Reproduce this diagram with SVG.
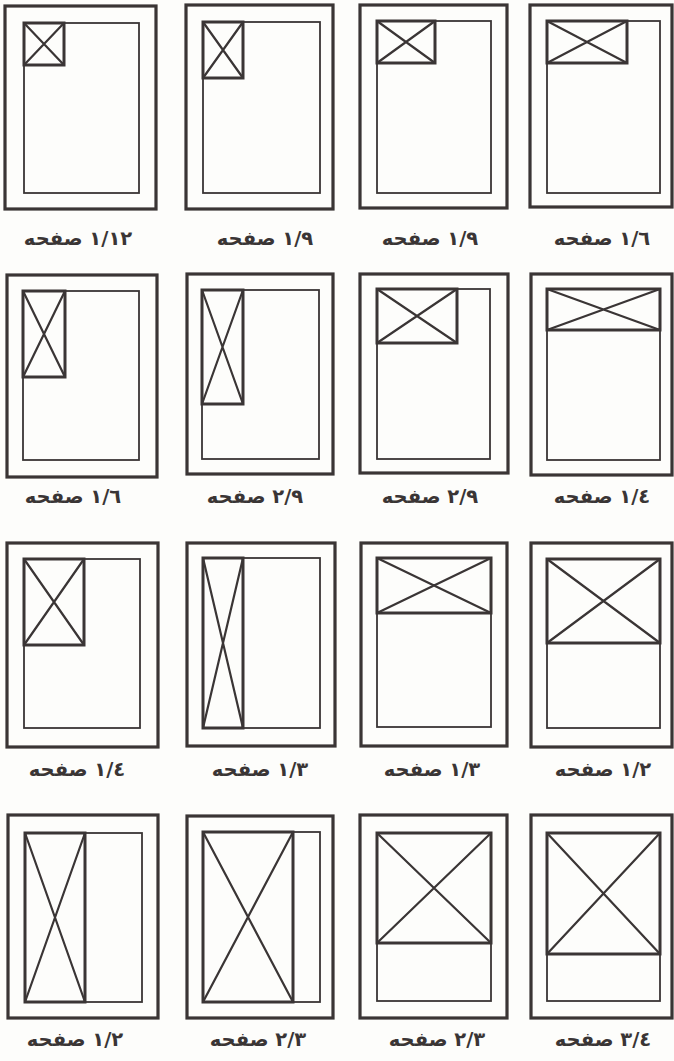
<svg xmlns="http://www.w3.org/2000/svg" width="674" height="1061" viewBox="0 0 674 1061">
<style>
.outer{fill:none;stroke:#3a3535;stroke-width:3.2}
.inner{fill:none;stroke:#3a3535;stroke-width:1.8}
.box{fill:none;stroke:#3a3535;stroke-width:3}
.diag{fill:none;stroke:#3a3535;stroke-width:2.2}
.lbl{font-family:"DejaVu Sans",sans-serif;font-weight:bold;font-size:19.5px;fill:#3a3535;text-anchor:middle}
</style>
<rect width="674" height="1061" fill="#fdfdfb"/>
<g id="p1"><rect class="outer" x="5" y="6" width="151" height="203"/><rect class="inner" x="24" y="23" width="115" height="170"/><rect class="box" x="24" y="23" width="40" height="42"/><path class="diag" d="M24 23L64 65M64 23L24 65"/><text class="lbl" x="78" y="245" direction="rtl">١/١٢ صفحه</text></g>
<g id="p2"><rect class="outer" x="186" y="5" width="147" height="204"/><rect class="inner" x="203" y="22" width="117" height="171"/><rect class="box" x="203" y="22" width="40" height="56"/><path class="diag" d="M203 22L243 78M243 22L203 78"/><text class="lbl" x="265" y="245" direction="rtl">١/٩ صفحه</text></g>
<g id="p3"><rect class="outer" x="360" y="5" width="147" height="203"/><rect class="inner" x="377" y="21" width="114" height="172"/><rect class="box" x="377" y="21" width="58" height="42"/><path class="diag" d="M377 21L435 63M435 21L377 63"/><text class="lbl" x="430" y="245" direction="rtl">١/٩ صفحه</text></g>
<g id="p4"><rect class="outer" x="530" y="5" width="142" height="202"/><rect class="inner" x="547" y="21" width="113" height="172"/><rect class="box" x="547" y="21" width="80" height="42"/><path class="diag" d="M547 21L627 63M627 21L547 63"/><text class="lbl" x="602" y="245" direction="rtl">١/٦ صفحه</text></g>
<g id="p5"><rect class="outer" x="7" y="275" width="150" height="202"/><rect class="inner" x="23" y="291" width="116" height="169"/><rect class="box" x="23" y="291" width="42" height="86"/><path class="diag" d="M23 291L65 377M65 291L23 377"/><text class="lbl" x="73" y="503" direction="rtl">١/٦ صفحه</text></g>
<g id="p6"><rect class="outer" x="187" y="274" width="146" height="200"/><rect class="inner" x="202" y="290" width="117" height="169"/><rect class="box" x="202" y="290" width="41" height="114"/><path class="diag" d="M202 290L243 404M243 290L202 404"/><text class="lbl" x="255" y="503" direction="rtl">٢/٩ صفحه</text></g>
<g id="p7"><rect class="outer" x="360" y="274" width="148" height="199"/><rect class="inner" x="377" y="289" width="113" height="170"/><rect class="box" x="377" y="289" width="80" height="54"/><path class="diag" d="M377 289L457 343M457 289L377 343"/><text class="lbl" x="430" y="503" direction="rtl">٢/٩ صفحه</text></g>
<g id="p8"><rect class="outer" x="531" y="274" width="141" height="201"/><rect class="inner" x="547" y="289" width="113" height="171"/><rect class="box" x="547" y="289" width="113" height="41"/><path class="diag" d="M547 289L660 330M660 289L547 330"/><text class="lbl" x="602" y="503" direction="rtl">١/٤ صفحه</text></g>
<g id="p9"><rect class="outer" x="7" y="543" width="151" height="204"/><rect class="inner" x="24" y="559" width="116" height="169"/><rect class="box" x="24" y="559" width="60" height="86"/><path class="diag" d="M24 559L84 645M84 559L24 645"/><text class="lbl" x="77" y="776" direction="rtl">١/٤ صفحه</text></g>
<g id="p10"><rect class="outer" x="187" y="543" width="148" height="203"/><rect class="inner" x="203" y="558" width="117" height="170"/><rect class="box" x="203" y="558" width="40" height="170"/><path class="diag" d="M203 558L243 728M243 558L203 728"/><text class="lbl" x="260" y="776" direction="rtl">١/٣ صفحه</text></g>
<g id="p11"><rect class="outer" x="361" y="543" width="146" height="203"/><rect class="inner" x="377" y="558" width="114" height="169"/><rect class="box" x="377" y="558" width="114" height="55"/><path class="diag" d="M377 558L491 613M491 558L377 613"/><text class="lbl" x="432" y="776" direction="rtl">١/٣ صفحه</text></g>
<g id="p12"><rect class="outer" x="531" y="543" width="141" height="204"/><rect class="inner" x="547" y="559" width="113" height="169"/><rect class="box" x="547" y="559" width="113" height="84"/><path class="diag" d="M547 559L660 643M660 559L547 643"/><text class="lbl" x="603" y="776" direction="rtl">١/٢ صفحه</text></g>
<g id="p13"><rect class="outer" x="8" y="815" width="150" height="203"/><rect class="inner" x="25" y="833" width="117" height="169"/><rect class="box" x="25" y="833" width="60" height="169"/><path class="diag" d="M25 833L85 1002M85 833L25 1002"/><text class="lbl" x="75" y="1046" direction="rtl">١/٢ صفحه</text></g>
<g id="p14"><rect class="outer" x="187" y="816" width="146" height="202"/><rect class="inner" x="203" y="832" width="117" height="170"/><rect class="box" x="203" y="832" width="90" height="170"/><path class="diag" d="M203 832L293 1002M293 832L203 1002"/><text class="lbl" x="258" y="1046" direction="rtl">٢/٣ صفحه</text></g>
<g id="p15"><rect class="outer" x="360" y="815" width="147" height="203"/><rect class="inner" x="377" y="833" width="114" height="168"/><rect class="box" x="377" y="833" width="114" height="110"/><path class="diag" d="M377 833L491 943M491 833L377 943"/><text class="lbl" x="437" y="1046" direction="rtl">٢/٣ صفحه</text></g>
<g id="p16"><rect class="outer" x="531" y="815" width="141" height="203"/><rect class="inner" x="547" y="833" width="113" height="168"/><rect class="box" x="547" y="833" width="113" height="121"/><path class="diag" d="M547 833L660 954M660 833L547 954"/><text class="lbl" x="603" y="1046" direction="rtl">٣/٤ صفحه</text></g>
<g id="connectors"></g>
</svg>
